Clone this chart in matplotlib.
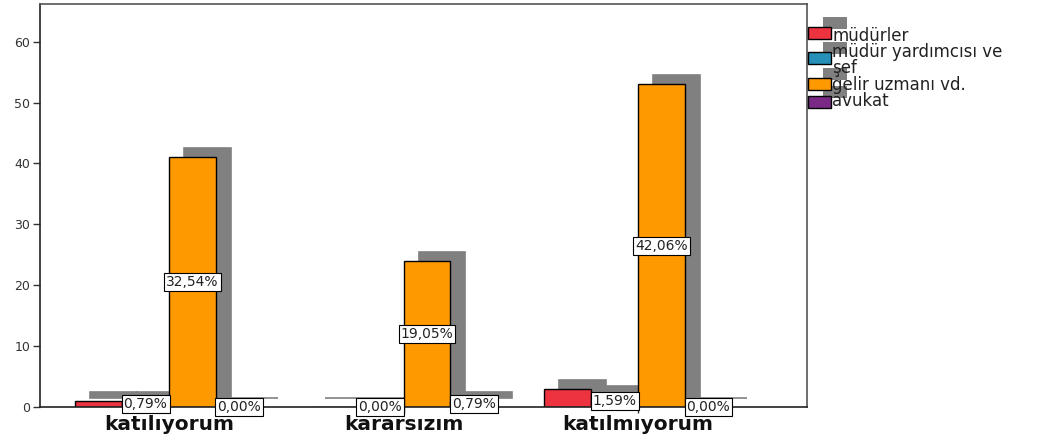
import matplotlib
matplotlib.use("Agg")
import matplotlib.pyplot as plt
from matplotlib.patches import Rectangle
import numpy as np

# counts per answer group
categories = ["katılıyorum", "kararsızım", "katılmıyorum"]
series_names = ["müdürler", "müdür yardımcısı ve\nşef", "gelir uzmanı vd.", "avukat"]
mudurler = [1, 0, 3]
mudur_yard = [1, 0, 2]
gelir_uzmani = [41, 24, 53]
avukat = [0, 1, 0]
yticks = [0, 10, 20, 30, 40, 50, 60]

colors = ["#EE3340", "#2690B8", "#FF9900", "#7A2A85"]
shadow = "#808080"

series = [mudurler, mudur_yard, gelir_uzmani, avukat]
total = sum(sum(s) for s in series)
labelled = [1, 2, 3]  # which series get a percentage box

fig = plt.figure(figsize=(10.54, 4.41), dpi=100)
W, H = 1054, 441
ax = fig.add_axes([40 / W, 1 - 407 / H, (807 - 40) / W, (407 - 4) / H])

x = np.arange(len(categories))
w = 0.2
dx, dy = 0.064, 1.5
offsets = [-1.5 * w, -0.5 * w, 0.5 * w, 1.5 * w]

# drop shadows first
for vals, off in zip(series, offsets):
    ax.bar(x + off + dx, vals, width=w, bottom=dy, color=shadow,
           edgecolor=shadow, linewidth=1.2, zorder=1)

for i, (vals, off, c) in enumerate(zip(series, offsets, colors)):
    ax.bar(x + off, vals, width=w, color=c, edgecolor="black",
           linewidth=1.0, zorder=2)
    if i in labelled:
        for xi, v in zip(x, vals):
            txt = "{:.2f}%".format(v / total * 100).replace(".", ",")
            ax.text(xi + off, v / 2, txt, ha="center", va="center",
                    fontsize=10, color="#222222", zorder=4,
                    bbox=dict(boxstyle="square,pad=0.15", fc="white",
                              ec="black", lw=0.8))

ax.set_xlim(-0.55, 2.72)
ax.set_ylim(0, 66.2)
ax.set_yticks(yticks)
ax.set_yticklabels([str(t) for t in yticks], fontsize=9, color="#333333")
ax.set_xticks(x)
ax.set_xticklabels(categories, fontsize=14.5, fontweight="bold", color="#111111")
ax.tick_params(axis="y", direction="out", length=5, width=1, color="#333333", pad=2)
ax.tick_params(axis="x", direction="out", length=4, width=1, color="#333333", pad=2)
for side in ["left", "bottom"]:
    ax.spines[side].set_color("#222222")
    ax.spines[side].set_linewidth(1.2)
for side in ["top", "right"]:
    ax.spines[side].set_color("#555555")
    ax.spines[side].set_linewidth(1.2)

# legend to the right of the plot area, in pixel coordinates
lax = fig.add_axes([807 / W, 0, (W - 807) / W, 1])
lax.set_xlim(807, W)
lax.set_ylim(H, 0)
lax.axis("off")
patch_y = [27, 52, 78, 96]
text_y = [36, 60, 85, 101]
for py, ty, name, c in zip(patch_y, text_y, series_names, colors):
    lax.add_patch(Rectangle((823, py - 10), 24, 12, fc=shadow, ec="none", zorder=1))
    lax.add_patch(Rectangle((808, py), 23, 12, fc=c, ec="black", lw=1.0, zorder=2))
    lax.text(832, ty, name, ha="left", va="center", fontsize=12,
             color="#222222", linespacing=0.8, zorder=3)

fig.savefig("out.png", dpi=100)
